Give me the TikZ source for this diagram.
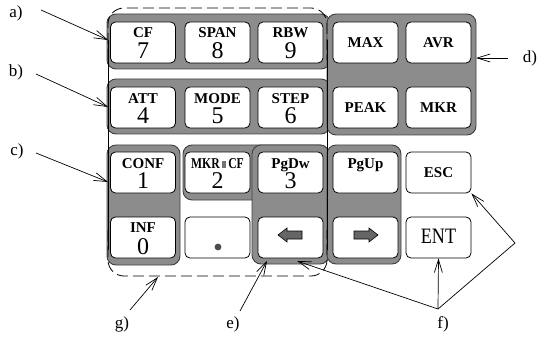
\documentclass[tikz,border=0pt]{standalone}
\usepackage{fontspec}
\usepackage{graphicx}
\setmainfont{Liberation Serif}
\usetikzlibrary{arrows.meta}
\newcommand{\kbtwo}[5]{%
  \node[keybox] (#1) at (#2,#3) {};
  \node[lab] (#1l) at (#2,#3-4.5) {#4};
  \node[dig] (#1d) at (#2,#3+16.5) {#5};}
\newcommand{\kbone}[4]{%
  \node[keybox] (#1) at (#2,#3) {};
  \node[one] (#1l) at (#2,#3) {#4};}
\begin{document}
\begin{tikzpicture}[x=1pt,y=-1pt,
  grp/.style={fill=black!45, draw=black!75, line width=0.9pt, rounded corners=9pt},
  keybox/.style={draw=black, line width=0.8pt, fill=white, rounded corners=5pt,
    minimum width=65pt, minimum height=41pt, inner sep=0pt},
  lab/.style={font=\fontsize{15}{16}\selectfont\bfseries, inner sep=0pt, anchor=base},
  dig/.style={font=\fontsize{24}{24}\selectfont, inner sep=0pt, anchor=base},
  one/.style={font=\fontsize{15}{16}\selectfont\bfseries, inner sep=0pt},
  tag/.style={font=\fontsize{17}{18}\selectfont, inner sep=0pt},
  arr/.style={-{Straight Barb[length=13pt,width=8pt]}, line width=0.7pt},
  outl/.style={line width=0.8pt},
  ]
\useasboundingbox (0,0) rectangle (547,337);

% shaded groups
\path[grp] (107,14) rectangle (330,69);
\path[grp] (107,79) rectangle (330,134);
\path[grp] (327,14) rectangle (476,135);
\path[grp] (107,145) rectangle (180,265);
\path[grp] (183,145) rectangle (329,200);
\path[grp] (252,145) rectangle (329,264);
\path[grp] (327,145) rectangle (401,264);

% outline g)
\draw[outl, dash pattern=on 11pt off 5pt, rounded corners=16pt] (108,60) -- (108,8) -- (327,8) -- (327,60);
\draw[outl, dash pattern=on 11pt off 5pt, rounded corners=16pt] (108,230) -- (108,276) -- (327,276) -- (327,230);
\draw[outl] (108,40) -- (108,250);
\draw[outl] (327,40) -- (327,250);

% keys
\kbtwo{k7}{143}{42.5}{CF}{7}
\kbtwo{k8}{217.5}{42.5}{SPAN}{8}
\kbtwo{k9}{290.5}{42.5}{RBW}{9}
\kbone{kmax}{365.5}{42.5}{MAX}
\kbone{kavr}{438.5}{42.5}{AVR}

\kbtwo{k4}{143}{107.5}{ATT}{4}
\kbtwo{k5}{217.5}{107.5}{MODE}{5}
\kbtwo{k6}{290.5}{107.5}{STEP}{6}
\kbone{kpeak}{365.5}{107.5}{PEAK}
\kbone{kmkr}{438.5}{107.5}{MKR}

\kbtwo{k1}{143}{172.5}{CONF}{1}
\kbtwo{k2}{217.5}{172.5}{\scalebox{0.78}[1]{MKR\,\textcolor{black!55}{\rule{6pt}{7pt}}\,CF}}{2}
\kbtwo{k3}{290.5}{172.5}{PgDw}{3}
\node[keybox] (kup) at (365.5,172.5) {};
\node[lab] (kupl) at (365.5,168) {PgUp};
\kbone{esc}{438.5}{172.5}{ESC}

\kbtwo{k0}{143}{237.5}{INF}{0}
\node[keybox] (kdot) at (217.5,237.5) {};
\fill[black!70] (218,247) circle (3.4pt);
\node[keybox] (kleft) at (290.5,237.5) {};
\filldraw[fill=black!60, draw=black, line width=0.6pt]
  (278,235) -- (287,228) -- (287,231) -- (302,231) -- (302,239) -- (287,239) -- (287,242) -- cycle;
\node[keybox] (kright) at (365.5,237.5) {};
\filldraw[fill=black!60, draw=black, line width=0.6pt]
  (378,235) -- (369,228) -- (369,231) -- (354,231) -- (354,239) -- (369,239) -- (369,242) -- cycle;
\node[keybox] (ent) at (438.5,237.5) {};
\node[inner sep=0pt] (entl) at (438.5,236) {\scalebox{0.82}[1]{\fontsize{22}{22}\selectfont ENT}};

% labels
\node[tag] (la) at (16,13) {a)};
\node[tag] (lb) at (16,72) {b)};
\node[tag] (lc) at (17,151) {c)};
\node[tag] (ld) at (530,58) {d)};
\node[tag] (le) at (233,324) {e)};
\node[tag] (lf) at (443,324) {f)};
\node[tag] (lg) at (122,324) {g)};

% connector ends
\coordinate (sa) at (41,10);   \coordinate (ta) at (108,40);
\coordinate (sb) at (36,74);   \coordinate (tb) at (108,107);
\coordinate (sc) at (36,153);  \coordinate (tc) at (108,182);
\coordinate (sd) at (508,58);  \coordinate (td) at (476,58);
\coordinate (se) at (240,311); \coordinate (te) at (267,261);
\coordinate (sg) at (130,310); \coordinate (tg) at (158,277);
\coordinate (fv) at (438,309); \coordinate (fr) at (515,243);
\coordinate (tf) at (297,261);

\draw[arr] (sa) -- (ta);
\draw[arr] (sb) -- (tb);
\draw[arr] (sc) -- (tc);
\draw[arr] (sd) -- (td);
\draw[arr] (se) -- (te);
\draw[arr] (sg) -- (tg);
\draw[arr] (fv) -- (ent.south);
\draw[arr] (fv) -- (fr) -- (esc.south east);
\draw[arr] (fv) -- (tf);
\end{tikzpicture}
\end{document}
